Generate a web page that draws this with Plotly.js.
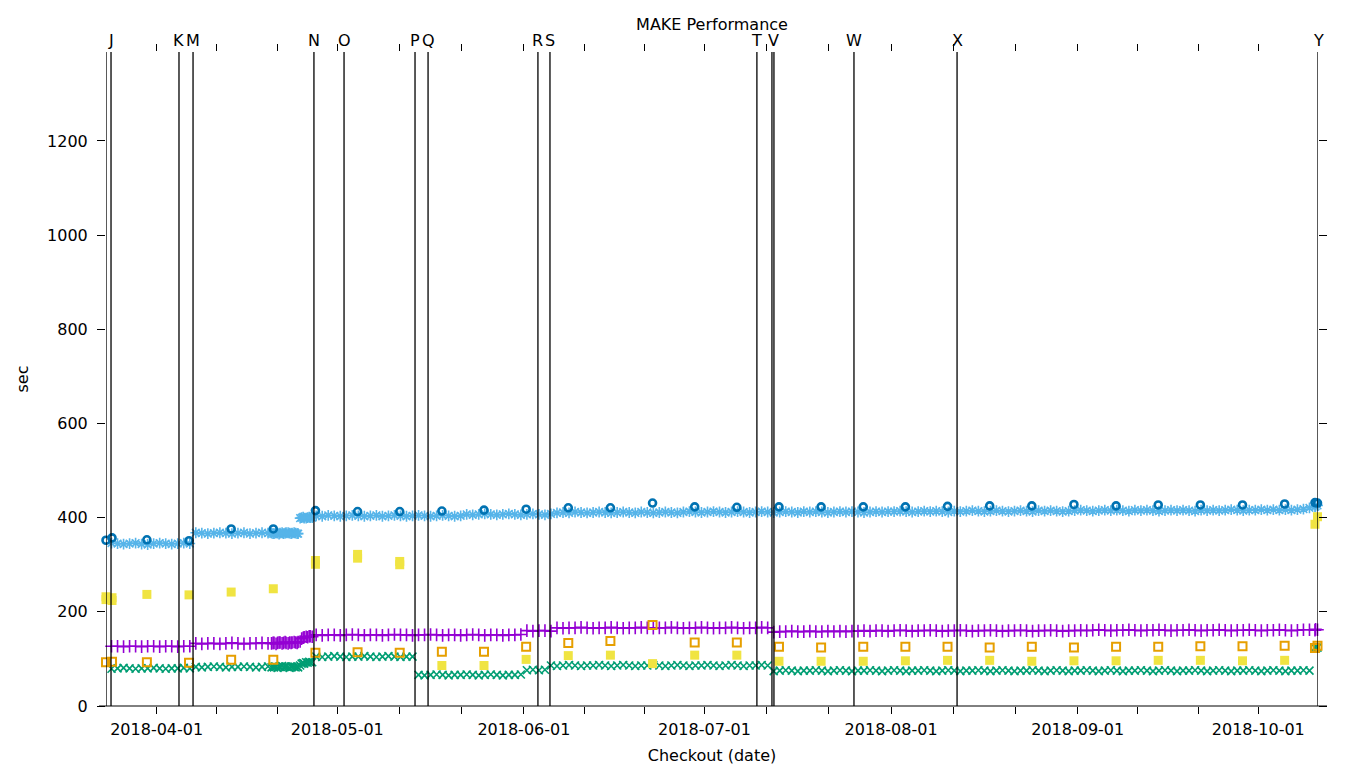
<!DOCTYPE html>
<html>
<head>
<meta charset="utf-8">
<script src="https://cdn.plot.ly/plotly-3.0.1.min.js"></script>
<style>html,body{margin:0;padding:0;background:#fff;}#chart{width:1360px;height:768px;}</style>
</head>
<body>
<div id="chart"></div>
<script>
// ---------------- data ----------------
// daily series start at 2018-03-23 12:00, one value per day
const dailyStart = '2018-03-23 12:00';

const lightBlue = [
  348,346,345,344,345,346,344,343,345,346,345,344,345,346,345,
  368,367,366,367,368,367,366,367,368,366,367,368,367,366,367,368,367,366,
  399,400,
  404,403,405,404,403,404,405,404,403,404,405,403,404,405,404,403,404,405,404,403,404,405,404,403,404,
  407,406,407,408,407,406,407,408,407,406,407,408,407,406,408,
  410,411,410,412,411,410,411,412,411,410,411,412,411,410,412,411,410,411,412,411,410,412,413,412,411,412,413,412,411,412,413,412,411,
  412,413,412,411,412,413,412,411,413,412,413,412,411,412,413,412,413,412,411,412,413,412,413,
  413,414,413,412,413,414,413,414,413,412,414,413,414,415,414,413,414,415,414,413,414,415,414,413,415,414,415,414,413,414,
  415,416,415,414,415,416,415,416,415,414,416,415,416,415,414,415,416,415,416,415,414,416,415,416,415,416,417,416,415,416,
  416,417,416,417,416,417,416,417,418,421,424
];

const purple = [
  128,127,127,126,127,127,126,127,127,126,127,127,126,127,127,
  133,132,133,133,132,133,134,133,132,133,133,134,133,
  134,135,134,135,136,
  146,148,
  151,150,151,151,150,151,152,151,150,151,151,150,151,152,151,151,150,151,151,152,151,150,151,151,150,151,152,151,150,151,151,150,151,151,152,
  160,159,160,160,159,
  166,165,166,166,167,166,165,166,166,167,166,165,166,166,167,166,165,166,166,167,166,165,166,166,167,166,165,166,166,167,166,165,166,166,167,166,
  157,158,158,159,158,158,159,158,158,159,158,159,158,159,159,
  160,159,160,160,159,160,161,160,159,160,160,161,160,159,160,160,161,160,159,160,160,161,160,159,160,160,161,160,159,160,160,161,160,159,160,
  160,161,160,161,162,161,160,161,161,162,161,160,161,161,162,161,160,161,161,162,161,160,161,161,162,161,160,161,161,162,161,160,161,161,162,161,160,161,162,162,163
];

const green = [
  80,79,80,81,80,79,80,80,81,80,79,80,80,81,80,
  83,82,83,84,83,82,83,83,84,83,82,83,84,82,83,84,83,82,
  90,93,
  105,104,105,106,105,104,105,105,106,105,104,105,106,105,104,105,105,
  66,65,66,67,66,65,66,66,67,66,65,66,67,66,65,66,66,67,
  76,77,76,77,
  86,85,86,87,86,85,86,86,87,86,85,86,87,86,85,86,86,87,86,85,86,87,86,85,86,86,87,86,85,86,87,86,85,86,86,87,86,
  74,75,76,75,74,75,75,76,75,74,
  75,76,75,74,75,75,76,75,74,75,
  76,75,74,75,75,76,75,74,75,76,
  75,74,75,75,76,75,74,75,76,75,
  74,75,75,76,75,74,75,76,75,74,
  75,75,76,75,74,75,76,75,74,75,
  75,76,75,74,75,76,75,74,75,75,
  76,75,74,75,76,75,74,75,75,76,
  75,74,75,76,75,74,75,75,76,75
];

// extra runs during the busy week of late April (several checkouts per day)
const denseDates = [
  '2018-04-20 02:00','2018-04-20 08:00','2018-04-20 20:00','2018-04-21 02:00','2018-04-21 08:00','2018-04-21 20:00',
  '2018-04-22 02:00','2018-04-22 08:00','2018-04-22 20:00','2018-04-23 02:00','2018-04-23 08:00','2018-04-23 20:00',
  '2018-04-24 02:00','2018-04-24 08:00','2018-04-24 20:00','2018-04-25 02:00','2018-04-25 08:00','2018-04-25 20:00',
  '2018-04-26 02:00','2018-04-26 08:00','2018-04-26 20:00'];
const denseLightBlue = [367,366,368,367,365,368,366,367,368,367,366,368,367,366,399,400,401,399,400,401,400];
const densePurple = [133,134,132,134,135,133,134,136,133,135,134,136,135,134,137,143,145,147,146,148,147];
const denseGreen = [82,84,83,81,83,85,82,84,83,81,84,83,82,84,86,90,91,93,92,94,93];

// weekly series
const weeklyDates = [
  '2018-03-23 14:00','2018-03-24 14:00',
  '2018-03-30 09:00','2018-04-06 09:00','2018-04-13 09:00','2018-04-20 09:00','2018-04-27 09:00',
  '2018-05-04 09:00','2018-05-11 09:00','2018-05-18 09:00','2018-05-25 09:00',
  '2018-06-01 09:00','2018-06-08 09:00','2018-06-15 09:00','2018-06-22 09:00','2018-06-29 09:00',
  '2018-07-06 09:00','2018-07-13 09:00','2018-07-20 09:00','2018-07-27 09:00',
  '2018-08-03 09:00','2018-08-10 09:00','2018-08-17 09:00','2018-08-24 09:00','2018-08-31 09:00',
  '2018-09-07 09:00','2018-09-14 09:00','2018-09-21 09:00','2018-09-28 09:00','2018-10-05 09:00'
];
const darkBlue = [352,357, 353,351,376,376,415, 413,413,414,416, 418,421,421,431,423, 422,423,423,423, 423,424,425,425,428, 425,427,427,427,429];
const yellow   = [232,230, 237,236,242,249,309, 314,307,86,86, 99,107,108,90,108, 108,95,95,95, 96,97,97,95,96, 96,97,97,96,97];
const orange   = [93,94, 93,92,98,98,113, 114,113,115,115, 126,134,138,172,135, 135,126,124,126, 126,126,124,126,124, 126,126,127,127,128];

// second readings in the tall yellow clusters
const yellowExtraDates = ['2018-04-27 09:00','2018-05-04 09:00','2018-05-11 09:00','2018-03-23 14:00','2018-03-24 14:00'];
const yellowExtra = [301, 322, 300, 226, 224];

// final runs at the right edge
const endDates = ['2018-10-10 10:00','2018-10-10 20:00','2018-10-11 04:00'];
const endLightBlue = [423, 426, 424];
const endDarkBlue = [432, 431, 433];
const endYellow = [386, 402, 394];
const endOrange = [123, 128, 125];
const endGreen = [124, 124, 125];
const endPurple = [161, 162, 161];

// event markers
const eventDates = ['2018-03-23 14:00','2018-03-24 10:00','2018-04-04 17:00','2018-04-07 01:00','2018-04-27 03:00',
  '2018-05-02 03:00','2018-05-13 22:00','2018-05-16 02:00','2018-06-03 08:00','2018-06-05 08:00',
  '2018-07-09 17:00','2018-07-12 05:00','2018-07-12 13:00','2018-07-25 20:00','2018-08-11 23:00','2018-10-10 22:00'];
const eventLabels = ['','J','K','M','N','O','P','Q','R','S','T','','V','W','X','Y'];

const minorTicks = ['2018-04-11','2018-04-21','2018-05-11 08:00','2018-05-21 16:00','2018-06-11','2018-06-21',
  '2018-07-11 08:00','2018-07-21 16:00','2018-08-11 08:00','2018-08-21 16:00','2018-09-11','2018-09-21',
  '2018-10-11 08:00'];

// ---------------- build ----------------
function addDays(str, n) {
  const d = new Date(str.replace(' ', 'T') + ':00Z');
  d.setUTCDate(d.getUTCDate() + n);
  return d.toISOString().slice(0, 16).replace('T', ' ');
}
function dailyX(arr) { return arr.map((_, i) => addDays(dailyStart, i)); }

const traces = [
  {x: dailyX(green).concat(denseDates, endDates), y: green.concat(denseGreen, endGreen), mode: 'markers', cliponaxis: false,
   marker: {symbol: 'x-thin-open', size: 8, color: '#009e73', line: {width: 1.6, color: '#009e73'}}},
  {x: dailyX(purple).concat(denseDates, endDates), y: purple.concat(densePurple, endPurple), mode: 'markers', cliponaxis: false,
   marker: {symbol: 'cross-thin-open', size: 9, color: '#9400d3', line: {width: 1.6, color: '#9400d3'}}},
  {x: dailyX(lightBlue).concat(denseDates, endDates), y: lightBlue.concat(denseLightBlue, endLightBlue), mode: 'markers', cliponaxis: false,
   marker: {symbol: 'asterisk-open', size: 9, color: '#56b4e9', line: {width: 1.6, color: '#56b4e9'}}},
  {x: weeklyDates.concat(endDates), y: darkBlue.concat(endDarkBlue), mode: 'markers', cliponaxis: false,
   marker: {symbol: 'circle-open', size: 7, color: '#0072b2', line: {width: 2.6, color: '#0072b2'}}},
  {x: weeklyDates.concat(yellowExtraDates, endDates), y: yellow.concat(yellowExtra, endYellow), mode: 'markers', cliponaxis: false,
   marker: {symbol: 'square', size: 9, color: '#f0e442', line: {width: 0}}},
  {x: weeklyDates.concat(endDates), y: orange.concat(endOrange), mode: 'markers', cliponaxis: false,
   marker: {symbol: 'square-open', size: 8, color: '#e69f00', line: {width: 2, color: '#e69f00'}}}
];

const shapes = eventDates.map(d => ({type: 'line', xref: 'x', yref: 'paper', x0: d, x1: d, y0: 0, y1: 1,
  line: {color: '#000', width: 1.3}}));
shapes.push({type: 'line', xref: 'paper', yref: 'paper', x0: -7/1212, x1: 1 + 9/1212, y0: 0, y1: 0,
  line: {color: '#000', width: 1}});

const annotations = eventDates.map((d, i) => ({x: d, xref: 'x', y: 1 + 12/654, yref: 'paper',
  text: eventLabels[i], showarrow: false, yanchor: 'middle', xanchor: 'center',
  font: {family: 'DejaVu Sans', size: 16, color: '#000'}})).filter(a => a.text);

const font = {family: 'DejaVu Sans', size: 16, color: '#000'};
const layout = {
  width: 1360, height: 768,
  margin: {l: 106, r: 42, t: 52, b: 62, pad: 0},
  paper_bgcolor: '#fff', plot_bgcolor: '#fff',
  showlegend: false,
  font: font,
  title: {text: 'MAKE Performance', font: font, x: 0.5, xref: 'paper', xanchor: 'center', y: 1 - 24/768, yanchor: 'middle'},
  xaxis: {
    type: 'date', range: ['2018-03-23 14:00', '2018-10-10 22:00'],
    tick0: '2018-04-01', dtick: 'M1', tickformat: '%Y-%m-%d',
    ticks: 'outside', ticklen: 7, tickwidth: 1, tickcolor: '#000',
    showline: false, mirror: 'ticks', showgrid: false, zeroline: false,
    tickfont: font, ticklabelstandoff: 2,
    minor: {tickvals: minorTicks, ticks: 'outside', ticklen: 7, tickwidth: 1, tickcolor: '#000', showgrid: false},
    title: {text: 'Checkout (date)', font: font, standoff: 11}
  },
  yaxis: {
    range: [0, 1389], tick0: 0, dtick: 200,
    ticks: 'outside', ticklen: 8, tickwidth: 1, tickcolor: '#000',
    showline: false, mirror: 'ticks', showgrid: false, zeroline: false,
    tickfont: font, ticklabelstandoff: 6,
    title: {text: 'sec', font: font, standoff: 14}
  },
  shapes: shapes,
  annotations: annotations
};

Plotly.newPlot('chart', traces, layout, {displayModeBar: false, staticPlot: true});
</script>
</body>
</html>
